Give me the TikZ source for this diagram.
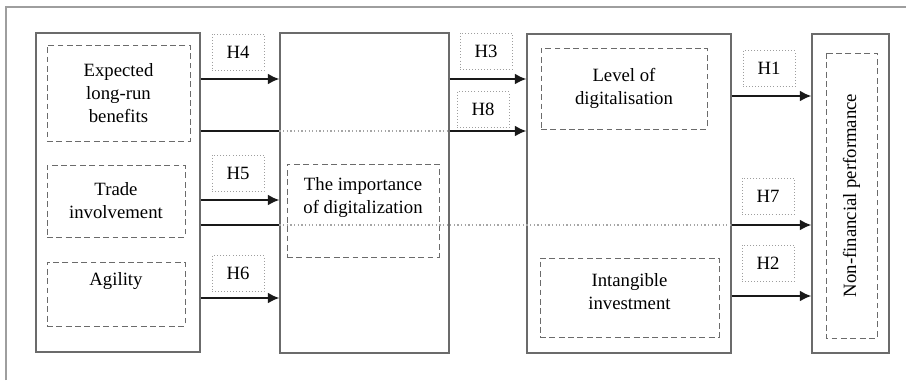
\documentclass[tikz,border=0pt]{standalone}
\usepackage{fontspec}
\setmainfont{Liberation Serif}
\usetikzlibrary{arrows.meta}
\definecolor{boxgray}{gray}{0.42}
\definecolor{hypgray}{gray}{0.62}
\definecolor{dotgray}{gray}{0.65}
\definecolor{linegray}{gray}{0.1}
\tikzstyle{Box}=[draw=boxgray,line width=0.9pt,inner sep=0pt]
\tikzstyle{Var}=[draw=boxgray,dash pattern=on 5pt off 3pt,line width=0.8pt,align=center,inner sep=0pt]
\tikzstyle{Hyp}=[draw=hypgray,dotted,line width=0.6pt,minimum width=1.56cm,minimum height=1.08cm,inner sep=0pt]
\tikzstyle{Line}=[-{Latex[length=10pt,width=9.5pt]},line width=2.1pt,draw=linegray]
\tikzstyle{Plain}=[line width=2.1pt,draw=linegray]
\tikzstyle{Through}=[dotted,draw=dotgray,line width=1.1pt]

\begin{document}
\begin{tikzpicture}[x=0.03cm,y=-0.03cm]
    \fontsize{16}{19.6}\selectfont
    \useasboundingbox (0,0) rectangle (906,380);
    \draw[draw=hypgray,line width=0.9pt] (6,380) -- (6,7) -- (906,7);

    \node[Box,minimum width=4.92cm,minimum height=9.57cm] (src) at (118,192.5) {};
    \node[Box,minimum width=5.07cm,minimum height=9.6cm] (imp) at (364.5,193) {};
    \node[Box,minimum width=6.12cm,minimum height=9.57cm] (dig) at (629,193.5) {};
    \node[Box,minimum width=2.31cm,minimum height=9.57cm] (nfp) at (850.5,193.5) {};

    \node[Var,minimum width=4.29cm,minimum height=2.88cm] (exp) at (118.5,93) {Expected\\long-run\\benefits};
    \node[Var,minimum width=4.14cm,minimum height=2.16cm] (trd) at (116,201) {Trade\\involvement};
    \node[Var,minimum width=4.14cm,minimum height=1.92cm] (agi) at (116,294) {Agility\\ \strut};
    \node[Var,minimum width=4.56cm,minimum height=2.79cm] (imt) at (363,210.5) {The importance\\of digitalization\\ \strut};
    \node[Var,minimum width=4.98cm,minimum height=2.43cm] (lvl) at (624,88.5) {Level of\\digitalisation};
    \node[Var,minimum width=5.37cm,minimum height=2.37cm,text depth=0.35cm] (int) at (629.5,297.5) {Intangible\\investment};
    \node[Var,rotate=90,minimum width=8.55cm,minimum height=1.53cm] (nfv) at (851.5,195.5) {Non-financial performance};

    \node[Hyp] (h4) at (238,52) {H4};
    \node[Hyp] (h5) at (238,173) {H5};
    \node[Hyp] (h6) at (238,273.5) {H6};
    \node[Hyp] (h3) at (486,51) {H3};
    \node[Hyp] (h8) at (483,109.5) {H8};
    \node[Hyp] (h1) at (769,68.5) {H1};
    \node[Hyp] (h7) at (768,196) {H7};
    \node[Hyp] (h2) at (768,263) {H2};

    % direct paths
    \draw[Line] (src.east |- 0,79) -- (imp.west |- 0,79);
    \draw[Line] (src.east |- 0,200) -- (imp.west |- 0,200);
    \draw[Line] (src.east |- 0,298) -- (imp.west |- 0,298);
    \draw[Line] (imp.east |- 0,79) -- (dig.west |- 0,79);
    \draw[Line] (dig.east |- 0,96) -- (nfp.west |- 0,96);
    \draw[Line] (dig.east |- 0,296) -- (nfp.west |- 0,296);

    % paths passing through
    \draw[Plain] (src.east |- 0,131) -- (imp.west |- 0,131);
    \draw[Through] (imp.west |- 0,131) -- (imp.east |- 0,131);
    \draw[Line] (imp.east |- 0,131) -- (dig.west |- 0,131);

    \draw[Plain] (src.east |- 0,225) -- (imp.west |- 0,225);
    \draw[Through] (imp.west |- 0,225) -- (dig.east |- 0,225);
    \draw[Line] (dig.east |- 0,225) -- (nfp.west |- 0,225);

\end{tikzpicture}
\end{document}
